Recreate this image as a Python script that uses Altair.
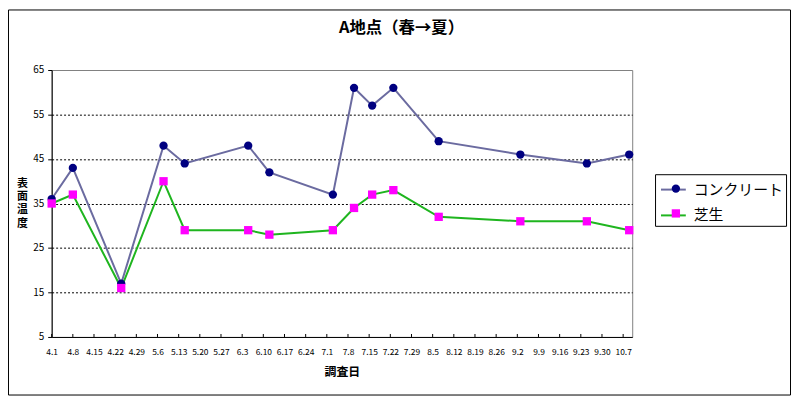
import json
from datetime import date

import altair as alt
import pandas as pd

title_text = "A地点（春→夏）"
series_names = ["コンクリート", "芝生"]
survey_dates = ["4.1", "4.8", "4.24", "5.8", "5.15", "6.5", "6.12", "7.3",
                "7.10", "7.16", "7.23", "8.7", "9.3", "9.25", "10.9"]
concrete = [36, 43, 17, 48, 44, 48, 42, 37, 61, 57, 61, 49, 46, 44, 46]
shiba = [35, 37, 16, 40, 29, 29, 28, 29, 34, 37, 38, 32, 31, 31, 29]
tick_labels = ["4.1", "4.8", "4.15", "4.22", "4.29", "5.6", "5.13", "5.20", "5.27",
               "6.3", "6.10", "6.17", "6.24", "7.1", "7.8", "7.15", "7.22", "7.29",
               "8.5", "8.12", "8.19", "8.26", "9.2", "9.9", "9.16", "9.23", "9.30", "10.7"]
y_ticks = [5, 15, 25, 35, 45, 55, 65]
x_end = "10.10"

line_colors = ["#6B6BA0", "#1FB51F"]
marker_colors = ["#000080", "#FF00FF"]
marker_shapes = ["circle", "square"]
FONT = "Noto Sans CJK JP"


def day_of(label):
    m, d = (int(v) for v in label.split("."))
    return (date(2001, m, d) - date(2001, 4, 1)).days


tick_days = [day_of(t) for t in tick_labels]
label_expr = f"{json.dumps(tick_labels)}[indexof({json.dumps(tick_days)}, datum.value)]"

rows = []
for name, vals in zip(series_names, [concrete, shiba]):
    for dl, v in zip(survey_dates, vals):
        rows.append({"day": day_of(dl), "value": v, "series": name, "series_m": name})
df = pd.DataFrame(rows)
ticks_df = pd.DataFrame({"day": tick_days})

W, H = 585, 269
PAD = {"left": 44, "top": 61, "right": 160, "bottom": 59}

x_enc = alt.X(
    "day:Q",
    scale=alt.Scale(domain=[0, day_of(x_end)], nice=False, zero=False),
    axis=alt.Axis(
        values=tick_days, labelExpr=label_expr, title="調査日",
        ticks=False, grid=False, labelFontSize=8.5, labelPadding=11,
        labelOverlap=False, labelFlush=False, labelBound=False,
        titleFontSize=12, titleFontWeight="bold", titlePadding=10,
        domainColor="black", labelColor="black", titleColor="black",
    ),
)
y_enc = alt.Y(
    "value:Q",
    scale=alt.Scale(domain=[5, 65], nice=False, zero=False),
    axis=alt.Axis(
        values=y_ticks, title=["表", "面", "温", "度"], titleAngle=0,
        titleX=-30, titleY=114, titleAlign="center", titleBaseline="middle",
        titleFontSize=11, titleFontWeight="bold", titleLineHeight=13.5,
        titleColor="black", labelFontSize=10, labelColor="black",
        tickSize=4, tickColor="black", labelPadding=4,
        gridDash=[2, 2], gridColor="black",
        gridOpacity={"condition": {"test": "datum.value >= 65 || datum.value <= 5", "value": 0}, "value": 1},
        domainColor="black",
    ),
)

frame = alt.Chart(pd.DataFrame({"a": [0]})).mark_rect(
    filled=False, stroke="black", strokeWidth=1
).encode(
    x=alt.value(-PAD["left"] + 0.5), x2=alt.value(W + PAD["right"] - 0.5),
    y=alt.value(-PAD["top"] + 0.5), y2=alt.value(H + PAD["bottom"] - 0.5),
)

lines = alt.Chart(df).mark_line(strokeWidth=2).encode(
    x=x_enc, y=y_enc,
    color=alt.Color(
        "series:N",
        scale=alt.Scale(domain=series_names, range=line_colors),
        legend=alt.Legend(
            title=None, orient="none", legendX=608, legendY=105,
            symbolType="stroke", symbolSize=625, symbolStrokeWidth=2, symbolOffset=3,
            labelFontSize=15, labelFont=FONT, labelColor="black", labelOffset=7,
            rowPadding=4, padding=2, strokeColor="black", fillColor="white",
            labelLimit=200,
        ),
    ),
    detail="series:N",
)

xticks = alt.Chart(ticks_df).mark_rule(color="black", strokeWidth=1).encode(
    x=x_enc, y=alt.value(H - 3), y2=alt.value(H),
)

points = alt.Chart(df).mark_point(filled=True, size=70, opacity=1, strokeWidth=0).encode(
    x=x_enc, y=y_enc,
    fill=alt.Fill(
        "series_m:N",
        scale=alt.Scale(range=marker_colors),
        legend=alt.Legend(
            title=None, orient="none", legendX=617.5, legendY=108,
            symbolSize=70, symbolStrokeWidth=0,
            labelFontSize=15, labelFont=FONT, labelExpr="''", labelOffset=5,
            rowPadding=9, padding=4, labelLimit=200,
        ),
    ),
    shape=alt.Shape("series_m:N", scale=alt.Scale(range=marker_shapes)),
)

chart = alt.layer(frame, lines, xticks, points).properties(
    width=W, height=H,
    padding=PAD,
    autosize=alt.AutoSizeParams(type="none"),
    title=alt.TitleParams(
        title_text, fontSize=16.5, fontWeight="bold", font=FONT, color="black",
        anchor="middle", frame="group", dx=60, offset=-40.5, baseline="alphabetic",
    ),
    background="white",
).configure(font=FONT).configure_view(stroke="#808080", strokeWidth=1)

chart.save("out.html", embed_options={"renderer": "svg", "actions": False})
